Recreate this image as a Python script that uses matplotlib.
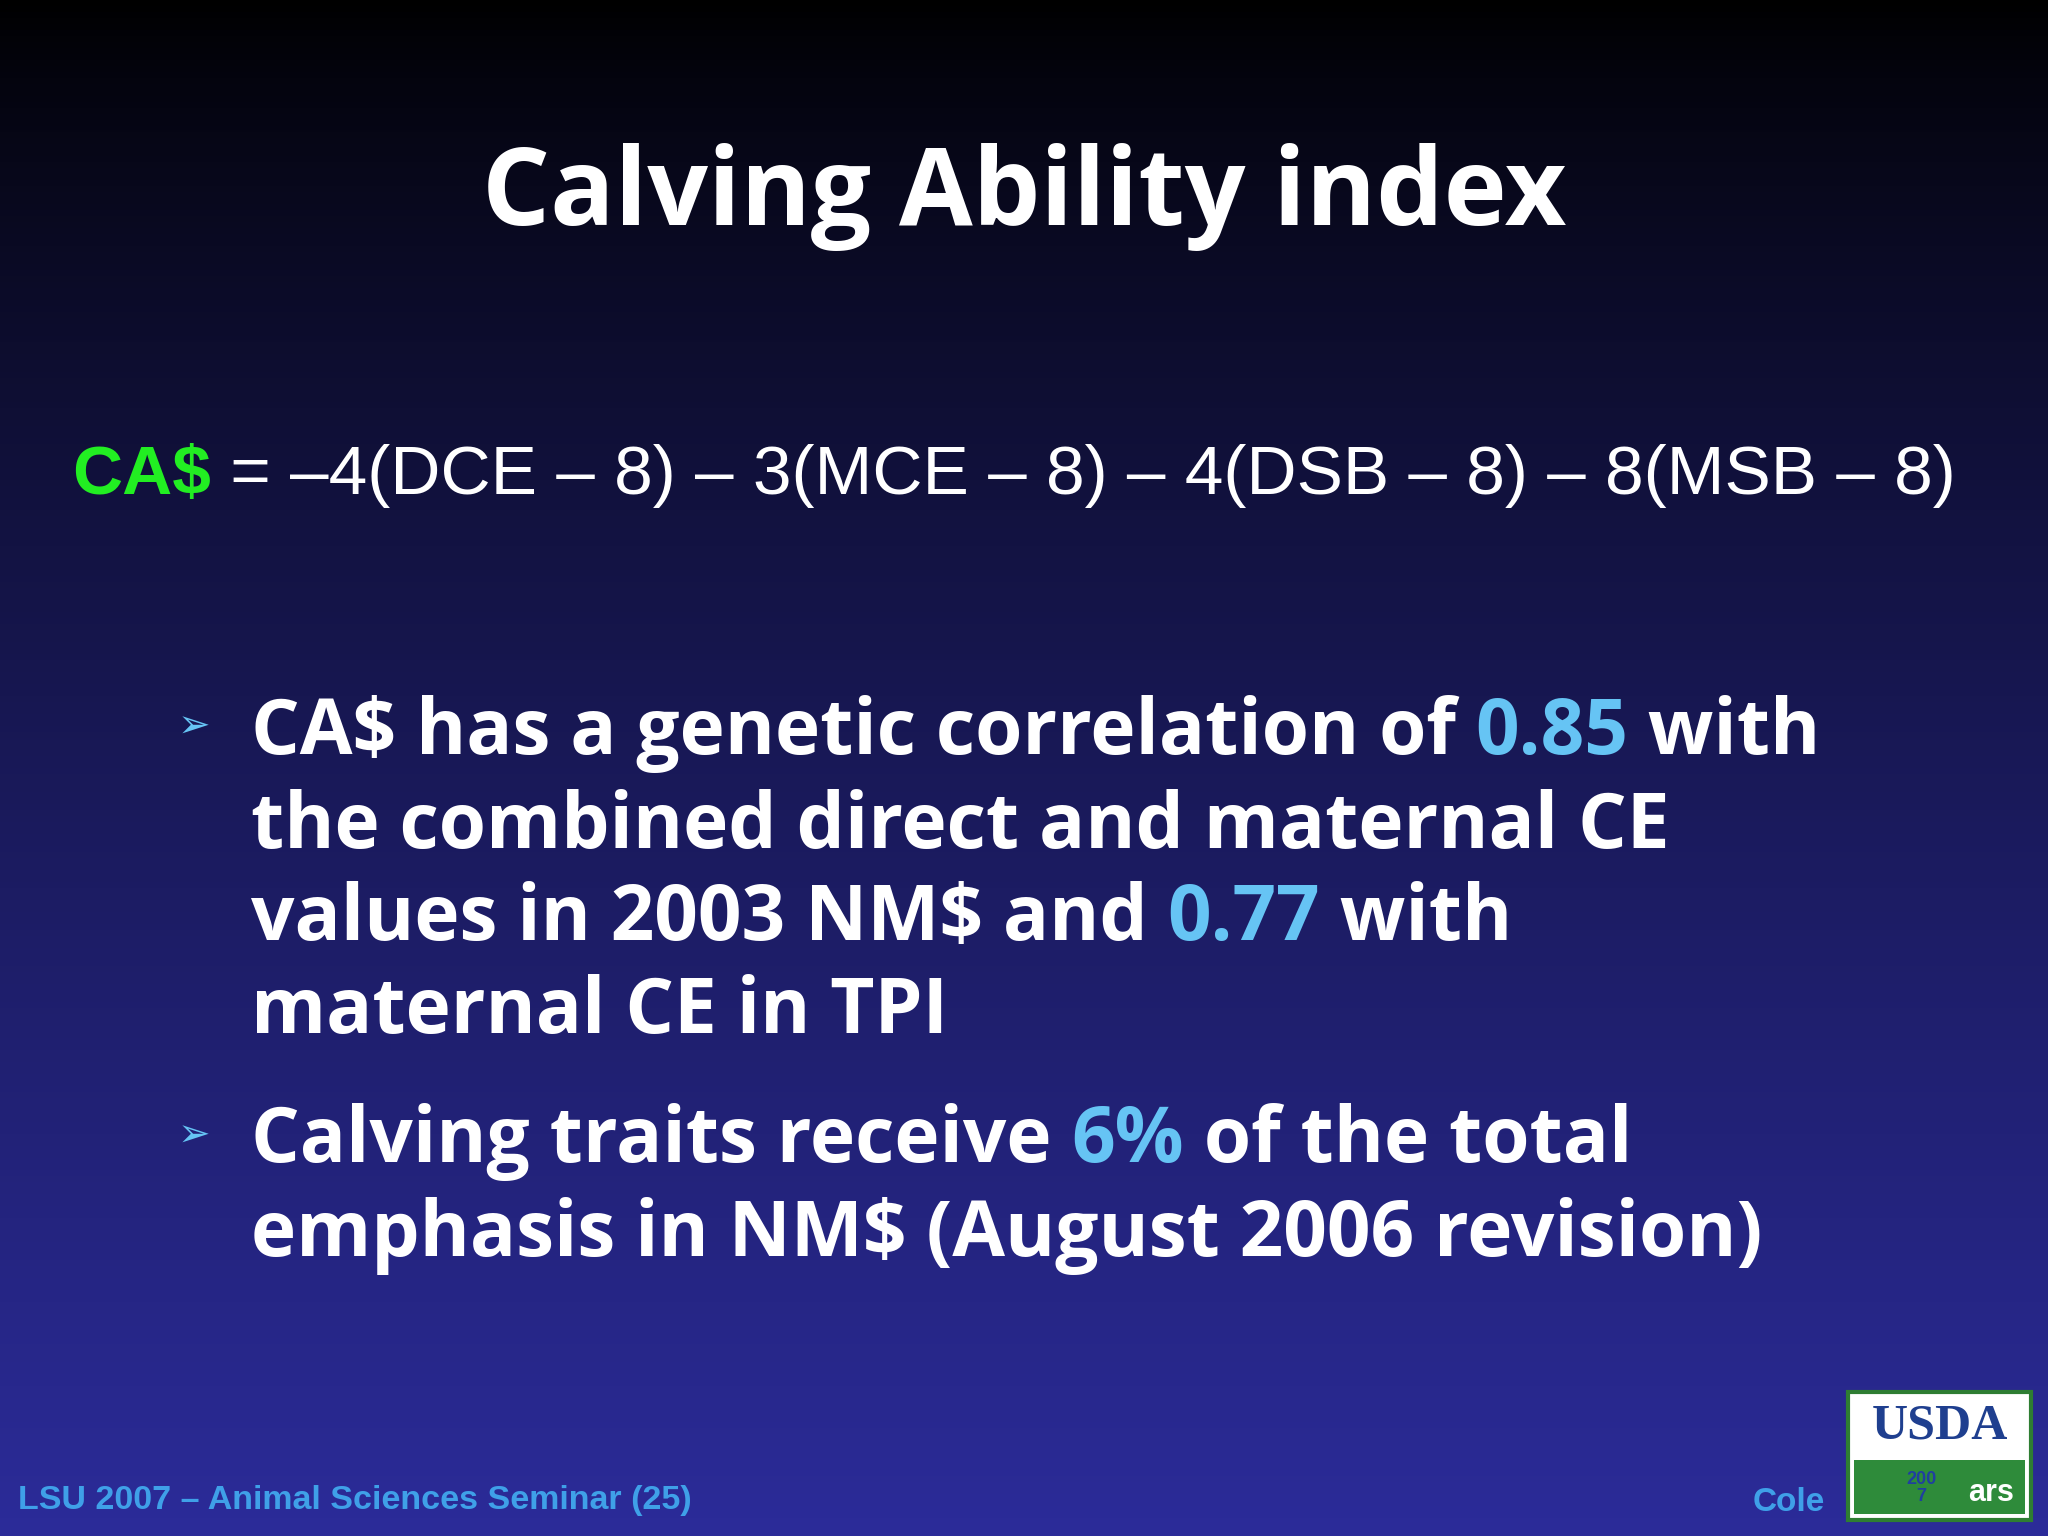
import matplotlib.pyplot as plt
import numpy as np
from matplotlib.patches import Rectangle

W, H = 2048, 1536
title = "Calving Ability index"
eq_parts = [("CA$", "#22ee22"), (" = \u20134(DCE \u2013 8) \u2013 3(MCE \u2013 8) \u2013 4(DSB \u2013 8) \u2013 8(MSB \u2013 8)", "white")]
white, blue = "white", "#66c4f4"
bullet1 = [
    [("CA$ has a genetic correlation of ", white), ("0.85", blue), (" with", white)],
    [("the combined direct and maternal CE", white)],
    [("values in 2003 NM$ and ", white), ("0.77", blue), (" with", white)],
    [("maternal CE in TPI", white)],
]
bullet2 = [
    [("Calving traits receive ", white), ("6%", blue), (" of the total", white)],
    [("emphasis in NM$ (August 2006 revision)", white)],
]
footer = "LSU 2007 \u2013 Animal Sciences Seminar (25)"

fig = plt.figure(figsize=(W / 100, H / 100), dpi=100)
bg = fig.add_axes([0, 0, 1, 1])
grad = np.linspace(0, 1, 256)[:, None]
top = np.array([0.0, 0.0, 0.0])
bot = np.array([0.17, 0.17, 0.60])
img = top + (bot - top) * (grad[..., None] ** 0.8)
bg.imshow(img, aspect="auto", extent=[0, 1, 0, 1])
bg.set_xlim(0, 1)
bg.set_ylim(0, 1)
bg.axis("off")

fig.canvas.draw()
renderer = fig.canvas.get_renderer()
S = W / 1568  # reference display px -> output px


def width_of(parts, **kw):
    t = fig.text(0, 0, "".join(p[0] for p in parts), **kw)
    w = t.get_window_extent(renderer).width
    t.remove()
    return w


def fit_size(parts, target, size, **kw):
    w = width_of(parts, fontsize=size, **kw)
    return size * target * S / w


def draw_segments(x, y, parts, weights=None, **kw):
    # draw coloured pieces one after another on the same baseline
    for i, (txt, col) in enumerate(parts):
        extra = {"fontweight": weights[i]} if weights else {}
        t = fig.text(x, y, txt, color=col, va="baseline", ha="left", **kw, **extra)
        bb = t.get_window_extent(renderer)
        x += bb.width / W


tkw = dict(fontweight="bold", family="Open Sans")
ts = fit_size([(title, white)], 830, 80, **tkw)
fig.text(0.5, 1 - 172 / 1176, title, color="white", fontsize=ts,
         ha="center", va="baseline", **tkw)

ekw = dict(family="Liberation Sans")
es = fit_size(eq_parts, 1440, 56, **ekw)
draw_segments(55 / 1568, 1 - 378 / 1176, eq_parts, weights=["bold", "normal"], fontsize=es, **ekw)

bkw = dict(fontweight="bold", family="Open Sans")
bs = fit_size(bullet1[0], 1203, 52, **bkw)
ys1 = [577, 649, 720, 791]
ys2 = [890, 962]
for lines, ys in [(bullet1, ys1), (bullet2, ys2)]:
    fig.text(136 / 1568, 1 - (ys[0] - 12) / 1176, "\u27a2", color=blue, fontsize=28,
             family="DejaVu Sans", va="baseline")
    for parts, yy in zip(lines, ys):
        draw_segments(192 / 1568, 1 - yy / 1176, parts, fontsize=bs, **bkw)

fig.text(14 / 1568, 1 - 1155 / 1176, footer, color="#3fa0e8", fontsize=24.5,
         fontweight="bold", family="Liberation Sans", va="baseline")
fig.text(1342 / 1568, 1 - 1157 / 1176, "Cole", color="#3fa0e8", fontsize=24,
         fontweight="bold", family="Liberation Sans", va="baseline")

# USDA logo
lx, ly, lw, lh = 1415 / 1568, 1 - 1164 / 1176, 140 / 1568, 98 / 1176
bg.add_patch(Rectangle((lx, ly), lw, lh, facecolor="white", edgecolor="#2e7d32", lw=3))
bg.add_patch(Rectangle((lx + 0.003, ly + 0.004), lw - 0.006, lh * 0.42, facecolor="#2e8b3a"))
fig.text(lx + lw / 2, ly + lh * 0.55, "USDA", color="#1f3f8f", fontsize=36,
         fontweight="bold", family="Liberation Serif", ha="center", va="bottom")
fig.text(lx + lw * 0.40, ly + lh * 0.12, "200\n7", color="#1f3fa0", fontsize=13,
         fontweight="bold", family="Liberation Sans", ha="center", va="bottom", linespacing=1.0)
fig.text(lx + lw * 0.78, ly + lh * 0.1, "ars", color="white", fontsize=22,
         fontweight="bold", family="Liberation Sans", ha="center", va="bottom")

fig.savefig("out.png", dpi=100)
